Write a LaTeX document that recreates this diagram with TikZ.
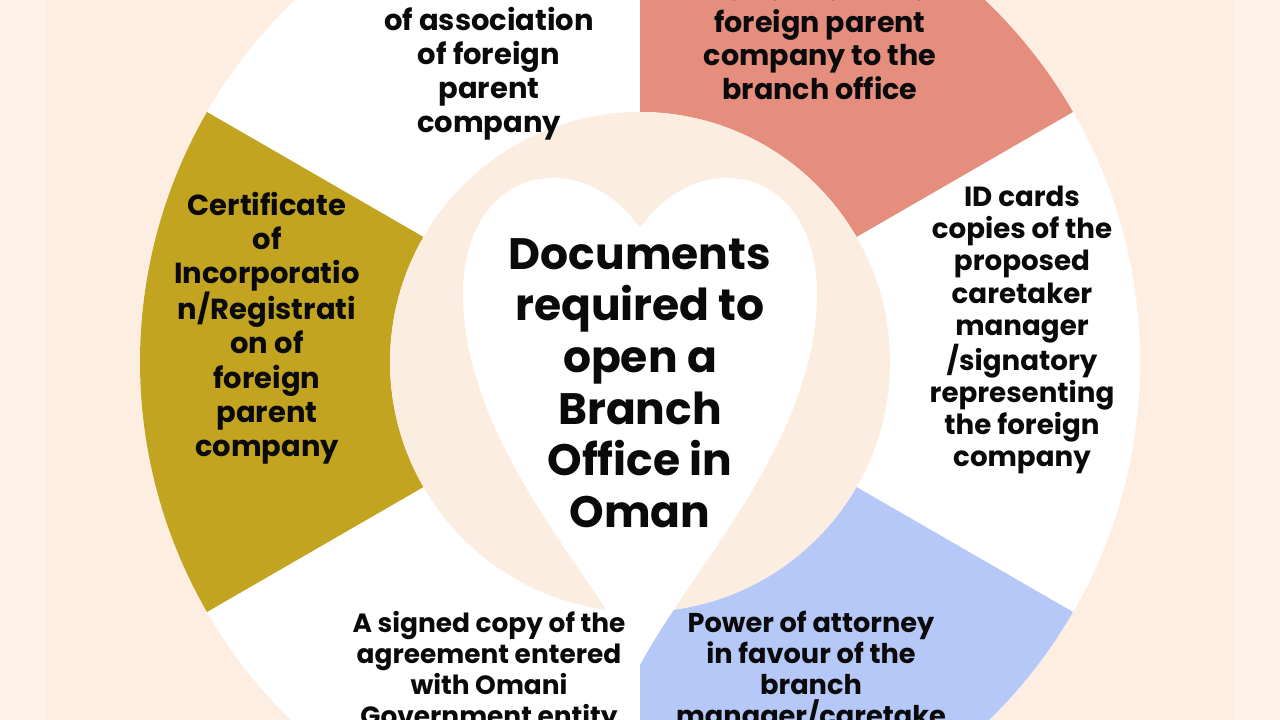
\documentclass[tikz,border=0pt]{standalone}
\usepackage{fontspec}
\setmainfont{Poppins}
\definecolor{bgc}{HTML}{FEEEE2}
\definecolor{sidec}{HTML}{FFF3E9}
\definecolor{ringc}{HTML}{FCEDE1}
\definecolor{pinkc}{HTML}{E58E7E}
\definecolor{bluec}{HTML}{B6C8F8}
\definecolor{olivec}{HTML}{C2A421}
\definecolor{inkc}{HTML}{0A0A0C}
\tikzset{
  lab/.style={align=center,text=inkc,inner sep=0pt},
  title/.style={align=center,text=inkc,inner sep=0pt,font=\fontsize{44}{51.6}\selectfont\bfseries},
}
\newcommand{\labfont}[2]{\fontsize{#1}{#2}\selectfont\bfseries}
\newcommand{\sectorpath}[2]{(#1:500) arc[start angle=#1,end angle=#2,radius=500] -- (#2:250) arc[start angle=#2,end angle=#1,radius=250] -- cycle}
\begin{document}
\begin{tikzpicture}[x=1pt,y=1pt]
\useasboundingbox (0,0) rectangle (1280,720);
\clip (0,0) rectangle (1280,720);
\fill[sidec] (0,0) rectangle (1280,720);
\fill[bgc] (45,0) rectangle (1235,720);
\begin{scope}[shift={(640,358)}]
  \fill[white] (0,0) circle[radius=500];
  \fill[pinkc] \sectorpath{30}{90};
  \fill[bluec] \sectorpath{-90}{-30};
  \fill[olivec] \sectorpath{150}{210};
  \fill[ringc] (0,0) circle[radius=250];
\end{scope}
% heart
\fill[white] (640,55)
  .. controls (590,150) and (463,280) .. (463,427)
  .. controls (463,495) and (500,542) .. (553,542)
  .. controls (590,542) and (620,520) .. (640,492)
  .. controls (660,520) and (690,542) .. (727,542)
  .. controls (780,542) and (817,495) .. (817,427)
  .. controls (817,280) and (690,150) .. (640,55) -- cycle;
\node[title] (centre) at (640,337) {Documents\\required to\\open a\\Branch\\Office in\\Oman};
\node[lab,font=\labfont{29}{34}] (assoc) at (489,646) {of association\\of foreign\\parent\\company};
\node[lab,font=\labfont{28.6}{33.5}] (letter) at (820,681) {Letter from the\\[-2pt]foreign parent\\company to the\\branch office};
\node[lab,font=\labfont{29}{34.2}] (cert) at (267,392) {Certificate\\of\\Incorporatio\\n/Registrati\\on of\\foreign\\parent\\company};
\node[lab,font=\labfont{27.7}{32.1}] (idc) at (1022,390) {ID cards\\copies of the\\proposed\\caretaker\\manager\\/signatory\\representing\\the foreign\\company};
\node[lab,font=\labfont{26.4}{31}] (signed) at (489,48.3) {A signed copy of the\\agreement entered\\with Omani\\Government entity};
\node[lab,font=\labfont{27.2}{31}] (power) at (811,48) {Power of attorney\\in favour of the\\branch\\manager/caretake};
\end{tikzpicture}
\end{document}
